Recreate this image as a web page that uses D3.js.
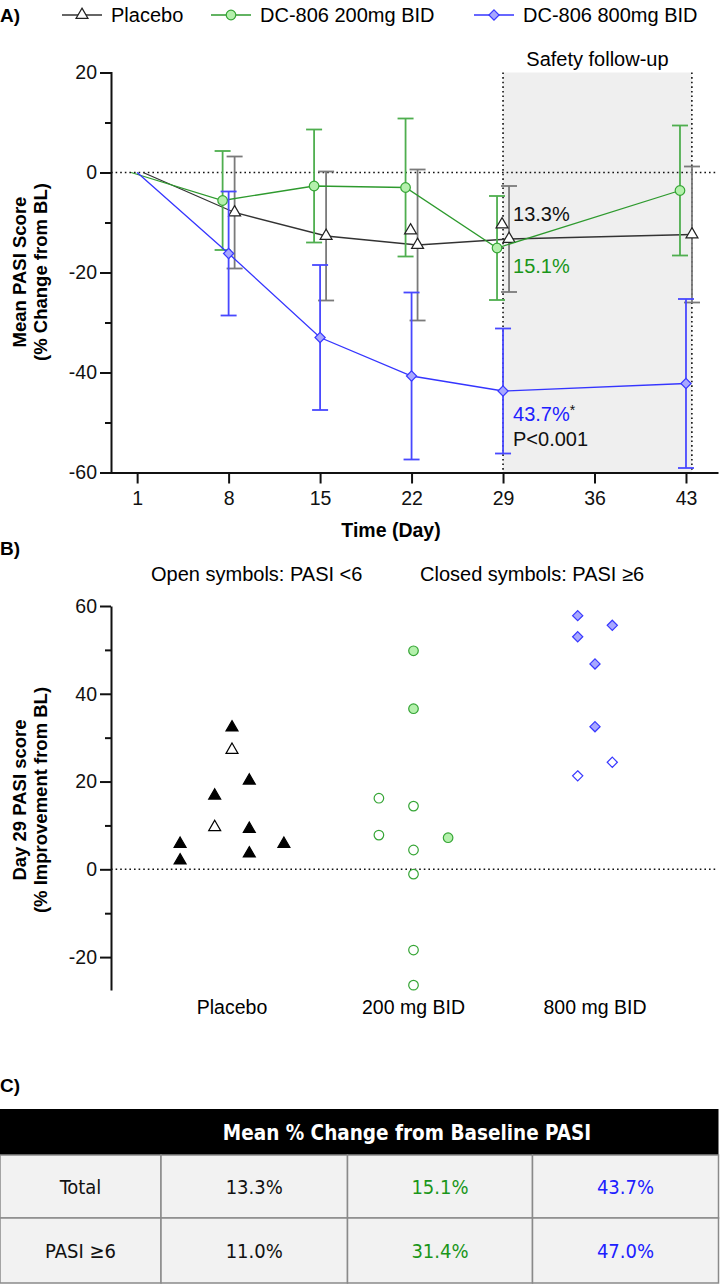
<!DOCTYPE html>
<html><head><meta charset="utf-8">
<script src="https://cdn.jsdelivr.net/npm/d3@7"></script>
<style>
body{margin:0;background:#fff;}
svg{display:block;font-family:"Liberation Sans",Arial,sans-serif;}
</style></head><body>
<svg id="chart" width="720" height="1285"></svg>
<script>
// ---- panel A data: mean % change from BL and error half-widths ----
const days = [1, 8, 15, 22, 29, 43];
const placeboMean = [0, -8, -12.7, -14.5, -13.3, -12.4];
const placeboErr  = [0, 11.2, 12.9, 15.1, 10.6, 13.6];
const dc200Mean   = [0, -5.6, -2.7, -3, -15.1, -3.6];
const dc200Err    = [0, 9.9, 11.3, 13.8, 10.4, 13];
const dc800Mean   = [0, -16.2, -33, -40.7, -43.7, -42.2];
const dc800Err    = [0, 12.4, 14.5, 16.7, 12.5, 16.9];
const placeboExtraDays = [22, 29];
const placeboExtraVals = [-11.6, -10.4];
const dayTicks = [1, 8, 15, 22, 29, 36, 43];

// ---- panel B data: day 29 % improvement per subject ----
const groups = ["Placebo", "200 mg BID", "800 mg BID"];
const placeboD29  = [32.3, 27.2, 20.2, 16.8, 9.6, 9.2, 5.8, 2.0, 3.6, 5.8];
const placeboSlot = [0, 0, 1, -1, -1, 1, -3, -3, 1, 3];
const placeboHigh = [1, 0, 1, 1, 0, 1, 1, 1, 1, 1];
const dc200D29  = [49.8, 36.6, 16.2, 14.4, 7.8, 7.2, 4.4, -1.1, -18.4, -26.4];
const dc200Slot = [0, 0, -2, 0, -2, 2, 0, 0, 0, 0];
const dc200High = [1, 1, 0, 0, 0, 1, 0, 0, 0, 0];
const dc800D29  = [57.8, 55.6, 53, 46.8, 32.5, 24.4, 21.3];
const dc800Slot = [-1, 1, -1, 0, 0, 1, -1];
const dc800High = [1, 1, 1, 1, 1, 0, 0];

// ---- panel C table ----
const tableTitle = "Mean % Change from Baseline PASI";
const rowLabels = ["Total", "PASI \u22656"];
const rowTotal = ["13.3%", "15.1%", "43.7%"];
const rowHigh  = ["11.0%", "31.4%", "47.0%"];

const svg = d3.select("#chart");
const plain = d => String(d); // hyphen minus like the original

// diamond = square turned 45deg
const diamond = {draw(ctx, size) {
  const r = Math.sqrt(size / 2);
  ctx.moveTo(0, -r); ctx.lineTo(r, 0); ctx.lineTo(0, r); ctx.lineTo(-r, 0); ctx.closePath();
}};

const series = [
  {name: "Placebo", mean: placeboMean, err: placeboErr, off: 6, shape: d3.symbolTriangle,
   line: "#333", bar: "#7a7a7a", fill: "#fff", stroke: "#222", size: 62},
  {name: "DC-806 200mg BID", mean: dc200Mean, err: dc200Err, off: -6, shape: d3.symbolCircle,
   line: "#2e9a2e", bar: "#4fae4f", fill: "#b4f0ac", stroke: "#35a535", size: 72},
  {name: "DC-806 800mg BID", mean: dc800Mean, err: dc800Err, off: 0, shape: diamond,
   line: "#3535ff", bar: "#4848ff", fill: "#a8a8ff", stroke: "#3838ff", size: 52}
];

// ================= Panel A =================
const xA = d3.scaleLinear().domain([-1, 45.45]).range([111, 718]);
const yA = d3.scaleLinear().domain([-60, 20]).range([472.5, 72.5]);

svg.append("text").attr("x", 0).attr("y", 22).attr("font-weight", "bold")
  .attr("font-size", 19).text("A)");

// legend
const legX = [62, 211, 474];
series.forEach((s, i) => {
  const g = svg.append("g").attr("transform", `translate(${legX[i]},15)`);
  g.append("line").attr("x1", 0).attr("x2", 40).attr("stroke", s.line).attr("stroke-width", 1.3);
  g.append("path").attr("d", d3.symbol(s.shape, s.size)()).attr("transform", "translate(20,0)")
    .attr("fill", s.fill).attr("stroke", s.stroke).attr("stroke-width", 1.2);
  g.append("text").attr("x", 49).attr("y", 7).attr("font-size", 20).text(s.name);
});

// safety follow-up band
svg.append("rect").attr("x", xA(29)).attr("y", yA(20)).attr("width", xA(43.45) - xA(29))
  .attr("height", yA(-60) - yA(20)).attr("fill", "#efefef");
svg.append("text").attr("x", (xA(29) + xA(43.45)) / 2).attr("y", 66).attr("text-anchor", "middle")
  .attr("font-size", 20).text("Safety follow-up");
[29, 43.45].forEach(d => {
  svg.append("line").attr("x1", xA(d)).attr("x2", xA(d)).attr("y1", yA(20)).attr("y2", yA(-60))
    .attr("stroke", "#111").attr("stroke-width", 1.6).attr("stroke-dasharray", "1.6,3");
});
// zero line
svg.append("line").attr("x1", 111).attr("x2", 718).attr("y1", yA(0)).attr("y2", yA(0))
  .attr("stroke", "#111").attr("stroke-width", 1.6).attr("stroke-dasharray", "1.6,3");

// y axis A
const yAxisA = svg.append("g").attr("transform", "translate(111,0)")
  .call(d3.axisLeft(yA).tickValues([-60, -40, -20, 0, 20]).tickFormat(plain).tickSize(11).tickPadding(3));
svg.append("g").attr("transform", "translate(111,0)")
  .call(d3.axisLeft(yA).tickValues([-50, -30, -10, 10]).tickSize(6).tickFormat(""))
  .select(".domain").remove();
// x axis A
const xAxisA = svg.append("g").attr("transform", `translate(0,${yA(-60)})`)
  .call(d3.axisBottom(xA).tickValues(dayTicks).tickFormat(plain).tickSize(11).tickPadding(8).tickSizeOuter(0));
[yAxisA, xAxisA].forEach(a => {
  a.selectAll("text").attr("font-size", 19.5).attr("fill", "#111")
    .attr("font-family", "Liberation Sans, Arial, sans-serif");
  a.selectAll("line,path").attr("stroke", "#111").attr("stroke-width", 2);
});
svg.selectAll(".tick line").attr("stroke", "#111").attr("stroke-width", 2);

svg.append("text").attr("x", 391).attr("y", 537).attr("text-anchor", "middle")
  .attr("font-weight", "bold").attr("font-size", 19.5).text("Time (Day)");
const ytA = svg.append("text").attr("transform", "translate(0,272) rotate(-90)")
  .attr("text-anchor", "middle").attr("font-weight", "bold").attr("font-size", 18.5);
ytA.append("tspan").attr("x", 0).attr("y", 26).text("Mean PASI Score");
ytA.append("tspan").attr("x", 0).attr("y", 47).text("(% Change from BL)");

// series: error bars, lines, markers
series.forEach(s => {
  const pts = days.map((d, i) => ({x: xA(d) + s.off, m: s.mean[i], e: s.err[i], i}));
  const g = svg.append("g");
  pts.filter(p => p.i > 0).forEach(p => {
    g.append("line").attr("x1", p.x).attr("x2", p.x).attr("y1", yA(p.m + p.e)).attr("y2", yA(p.m - p.e))
      .attr("stroke", s.bar).attr("stroke-width", 1.8);
    [p.m + p.e, p.m - p.e].forEach(v => {
      g.append("line").attr("x1", p.x - 8).attr("x2", p.x + 8).attr("y1", yA(v)).attr("y2", yA(v))
        .attr("stroke", s.bar).attr("stroke-width", 1.8);
    });
  });
  g.append("path").datum(pts)
    .attr("d", d3.line().x(p => p.x).y(p => yA(p.m)))
    .attr("fill", "none").attr("stroke", s.line).attr("stroke-width", 1.3);
  g.selectAll(".mk").data(pts.filter(p => p.i > 0)).join("path")
    .attr("d", d3.symbol(s.shape, s.size)())
    .attr("transform", p => `translate(${p.x},${yA(p.m)})`)
    .attr("fill", s.fill).attr("stroke", s.stroke).attr("stroke-width", 1.2);
});
svg.selectAll(".extra").data(placeboExtraDays).join("path")
  .attr("d", d3.symbol(d3.symbolTriangle, 62)())
  .attr("transform", (d, i) => `translate(${xA(d) - 1},${yA(placeboExtraVals[i])})`)
  .attr("fill", "#fff").attr("stroke", "#222").attr("stroke-width", 1.2);

// annotations
const annX = xA(29) + 10;
svg.append("text").attr("x", annX).attr("y", 221).attr("font-size", 20).attr("fill", "#111").text("13.3%");
svg.append("text").attr("x", annX).attr("y", 273).attr("font-size", 20).attr("fill", "#1a961a").text("15.1%");
const t43 = svg.append("text").attr("x", annX).attr("y", 421).attr("font-size", 20).attr("fill", "#2020ff");
t43.append("tspan").text("43.7%");
t43.append("tspan").attr("fill", "#111").attr("font-size", 14).attr("dy", -6).text("*");
svg.append("text").attr("x", annX).attr("y", 446).attr("font-size", 20).attr("fill", "#111").text("P<0.001");

// ================= Panel B =================
const yB = d3.scaleLinear().domain([-27.5, 60]).range([990, 606]);
const xB = d3.scalePoint().domain(groups).range([232, 595]);
const slotW = 17.3;

svg.append("text").attr("x", 0).attr("y", 555).attr("font-weight", "bold").attr("font-size", 19).text("B)");
svg.append("text").attr("x", 151).attr("y", 581).attr("font-size", 20).text("Open symbols: PASI <6");
svg.append("text").attr("x", 420).attr("y", 581).attr("font-size", 20).text("Closed symbols: PASI \u22656");

svg.append("line").attr("x1", 111).attr("x2", 718).attr("y1", yB(0)).attr("y2", yB(0))
  .attr("stroke", "#111").attr("stroke-width", 1.6).attr("stroke-dasharray", "1.6,3");

const yAxisB = svg.append("g").attr("transform", "translate(111,0)")
  .call(d3.axisLeft(yB).tickValues([-20, 0, 20, 40, 60]).tickFormat(plain).tickSize(11).tickPadding(3).tickSizeOuter(0));
svg.append("g").attr("transform", "translate(111,0)")
  .call(d3.axisLeft(yB).tickValues([-10, 10, 30, 50]).tickSize(6).tickFormat(""))
  .select(".domain").remove();
yAxisB.selectAll("text").attr("font-size", 19.5).attr("fill", "#111")
  .attr("font-family", "Liberation Sans, Arial, sans-serif");
yAxisB.selectAll("line,path").attr("stroke", "#111").attr("stroke-width", 2);
svg.selectAll(".tick line").attr("stroke", "#111").attr("stroke-width", 2);

groups.forEach(gname => {
  svg.append("text").attr("x", xB(gname)).attr("y", 1014).attr("text-anchor", "middle")
    .attr("font-size", 19.5).text(gname);
});
const ytB = svg.append("text").attr("transform", "translate(0,800) rotate(-90)")
  .attr("text-anchor", "middle").attr("font-weight", "bold").attr("font-size", 18.5);
ytB.append("tspan").attr("x", 0).attr("y", 26).text("Day 29 PASI score");
ytB.append("tspan").attr("x", 0).attr("y", 47).text("(% Improvement from BL)");

const dotSets = [
  {g: groups[0], v: placeboD29, slot: placeboSlot, hi: placeboHigh, s: series[0], closed: "#000", stroke: "#000"},
  {g: groups[1], v: dc200D29, slot: dc200Slot, hi: dc200High, s: series[1], closed: "#b4f0ac", stroke: "#35a535"},
  {g: groups[2], v: dc800D29, slot: dc800Slot, hi: dc800High, s: series[2], closed: "#a8a8ff", stroke: "#3838ff"}
];
dotSets.forEach(ds => {
  const pts = ds.v.map((v, i) => ({v, slot: ds.slot[i], hi: ds.hi[i]}));
  svg.append("g").selectAll("path").data(pts).join("path")
    .attr("d", d3.symbol(ds.s.shape, ds.s.size)())
    .attr("transform", p => `translate(${xB(ds.g) + p.slot * slotW},${yB(p.v)})`)
    .attr("fill", p => p.hi ? ds.closed : "#fff")
    .attr("stroke", ds.stroke).attr("stroke-width", 1.2);
});

// ================= Panel C =================
svg.append("text").attr("x", 0).attr("y", 1092).attr("font-weight", "bold").attr("font-size", 19).text("C)");
const colX = [0, 161, 347.5, 532.5, 718.5];
const rowY = [1109, 1155, 1218, 1283];
const tfont = "'DejaVu Sans Condensed','DejaVu Sans',sans-serif";
svg.append("rect").attr("x", colX[0]).attr("y", rowY[0]).attr("width", colX[4] - colX[0])
  .attr("height", rowY[1] - rowY[0]).attr("fill", "#000");
svg.append("text").attr("x", 407).attr("y", 1140).attr("text-anchor", "middle")
  .attr("fill", "#fff").attr("font-weight", "bold").attr("font-size", 20.5)
  .style("font-family", tfont).style("font-stretch", "condensed").text(tableTitle);
const rowsData = [[rowLabels[0], ...rowTotal], [rowLabels[1], ...rowHigh]];
const cellColors = ["#111", "#111", "#1a961a", "#2020ff"];
rowsData.forEach((row, r) => {
  row.forEach((txt, c) => {
    svg.append("rect").attr("x", colX[c]).attr("y", rowY[r + 1]).attr("width", colX[c + 1] - colX[c])
      .attr("height", rowY[r + 2] - rowY[r + 1]).attr("fill", "#f2f2f2")
      .attr("stroke", "#8a8a8a").attr("stroke-width", 1.5);
    svg.append("text").attr("x", (colX[c] + colX[c + 1]) / 2).attr("y", (rowY[r + 1] + rowY[r + 2]) / 2 + 7)
      .attr("text-anchor", "middle").attr("font-size", 20).attr("fill", cellColors[c])
      .style("font-family", tfont).style("font-stretch", "condensed").text(txt);
  });
});
</script>
</body></html>
